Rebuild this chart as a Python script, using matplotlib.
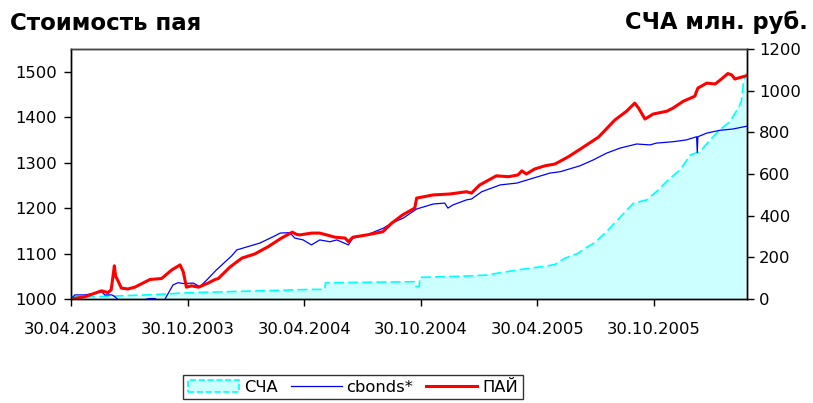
import pandas as pd
import matplotlib
matplotlib.use('Agg')
import matplotlib.pyplot as plt
import matplotlib.dates as mdates
from matplotlib.patches import Patch
from matplotlib.lines import Line2D

plt.rcParams['font.family'] = ['DejaVu Sans']

# ПАЙ - стоимость пая (левая ось)
pai_dates = [
    '2003-04-30', '2003-05-22', '2003-06-17', '2003-06-27', '2003-07-02', '2003-07-07',
    '2003-07-09', '2003-07-12', '2003-07-18', '2003-07-28', '2003-08-08', '2003-09-01',
    '2003-09-19', '2003-10-05', '2003-10-18', '2003-10-23', '2003-10-28', '2003-11-05',
    '2003-11-16', '2003-12-01', '2003-12-12', '2003-12-17', '2004-01-04', '2004-01-23',
    '2004-02-12', '2004-03-04', '2004-03-25', '2004-04-11', '2004-04-18', '2004-04-23',
    '2004-05-11', '2004-05-24', '2004-06-17', '2004-07-03', '2004-07-08', '2004-07-15',
    '2004-08-06', '2004-08-31', '2004-09-14', '2004-10-01', '2004-10-20', '2004-10-23',
    '2004-11-18', '2004-12-14', '2005-01-09', '2005-01-17', '2005-01-30', '2005-02-25',
    '2005-03-16', '2005-03-31', '2005-04-06', '2005-04-13', '2005-04-26', '2005-05-12',
    '2005-05-28', '2005-06-18', '2005-07-09', '2005-08-04', '2005-08-30', '2005-09-17',
    '2005-09-30', '2005-10-06', '2005-10-16', '2005-10-29', '2005-11-19', '2005-11-29',
    '2005-12-15', '2006-01-02', '2006-01-07', '2006-01-21', '2006-02-03', '2006-02-13',
    '2006-02-23', '2006-03-01', '2006-03-06', '2006-03-16', '2006-03-24',
]
pai = [
    1000, 1005, 1018, 1014, 1020, 1073,
    1050, 1042, 1024, 1022, 1026, 1043,
    1045, 1064, 1075, 1060, 1026, 1029,
    1026, 1035, 1043, 1045, 1070, 1090,
    1099, 1115, 1134, 1147, 1142, 1141,
    1145, 1145, 1136, 1134, 1126, 1136,
    1141, 1148, 1167, 1185, 1200, 1222,
    1229, 1231, 1236, 1233, 1251, 1271,
    1269, 1273, 1282, 1275, 1286, 1293,
    1297, 1313, 1332, 1356, 1394, 1413,
    1431, 1420, 1396, 1407, 1413, 1420,
    1435, 1446, 1464, 1475, 1473, 1484,
    1496, 1493, 1484, 1488, 1491,
]

# cbonds* (левая ось)
cb_dates = [
    '2003-04-30', '2003-05-06', '2003-05-22', '2003-06-07', '2003-06-17', '2003-06-22',
    '2003-07-03', '2003-07-08', '2003-07-13', '2003-07-24', '2003-08-16', '2003-08-27',
    '2003-09-01', '2003-09-09', '2003-09-13', '2003-09-24', '2003-10-07', '2003-10-15',
    '2003-10-23', '2003-11-08', '2003-11-18', '2003-11-29', '2003-12-14', '2004-01-07',
    '2004-01-15', '2004-02-20', '2004-03-12', '2004-03-23', '2004-04-07', '2004-04-15',
    '2004-04-28', '2004-05-11', '2004-05-24', '2004-06-09', '2004-06-20', '2004-07-08',
    '2004-07-15', '2004-08-06', '2004-09-01', '2004-09-14', '2004-10-02', '2004-10-23',
    '2004-11-18', '2004-12-06', '2004-12-11', '2004-12-19', '2005-01-09', '2005-01-17',
    '2005-02-02', '2005-03-03', '2005-03-29', '2005-04-24', '2005-05-20', '2005-06-05',
    '2005-07-06', '2005-07-27', '2005-08-17', '2005-09-07', '2005-10-03', '2005-10-24',
    '2005-11-03', '2005-11-29', '2005-12-20', '2006-01-05', '2006-01-06', '2006-01-07',
    '2006-01-21', '2006-02-10', '2006-03-03', '2006-03-24',
]
cbonds = [
    1000, 1009, 1009, 1013, 1016, 1009,
    1009, 1005, 998, 990, 990, 1000,
    1001, 1001, 995, 999, 1031, 1036,
    1034, 1035, 1027, 1042, 1064, 1095,
    1108, 1123, 1137, 1145, 1146, 1134,
    1130, 1119, 1130, 1126, 1130, 1119,
    1134, 1141, 1156, 1167, 1178, 1198,
    1209, 1211, 1200, 1207, 1218, 1220,
    1236, 1251, 1255, 1266, 1277, 1280,
    1293, 1306, 1321, 1332, 1341, 1339,
    1343, 1346, 1350, 1357, 1322, 1357,
    1365, 1371, 1374, 1380,
]

# СЧА, млн. руб. (правая ось)
scha_dates = [
    '2003-04-30', '2003-06-03', '2003-08-21', '2003-09-27', '2003-10-28', '2003-12-30',
    '2004-05-09', '2004-06-01', '2004-06-02', '2004-10-20', '2004-10-22', '2004-10-27',
    '2004-10-28', '2005-01-09', '2005-02-10', '2005-03-03', '2005-03-29', '2005-04-24',
    '2005-05-14', '2005-05-28', '2005-06-12', '2005-07-03', '2005-07-14', '2005-07-29',
    '2005-08-14', '2005-08-30', '2005-09-15', '2005-09-28', '2005-10-18', '2005-11-03',
    '2005-11-24', '2005-12-10', '2005-12-26', '2006-01-10', '2006-01-26', '2006-02-10',
    '2006-02-26', '2006-03-11', '2006-03-16', '2006-03-20', '2006-03-24',
]
scha = [
    11, 11, 19, 24, 30, 35,
    46, 46, 78, 83, 60, 60,
    104, 110, 115, 126, 139, 150,
    158, 166, 195, 219, 243, 270,
    315, 366, 419, 460, 475, 515,
    579, 619, 691, 707, 763, 811,
    851, 915, 947, 1051, 1083,
]

tick_dates = ['2003-04-30', '2003-10-30', '2004-04-30', '2004-10-30', '2005-04-30', '2005-10-30']

pai_dates = pd.to_datetime(pai_dates)
cb_dates = pd.to_datetime(cb_dates)
scha_dates = pd.to_datetime(scha_dates)
tick_dates = pd.to_datetime(tick_dates)

fig = plt.figure(figsize=(8.13, 4.03), dpi=100)
ax = fig.add_axes([71 / 813, 1 - 299 / 403, 676 / 813, 250 / 403])
ax2 = ax.twinx()

# площадь СЧА под линиями
ax2.fill_between(scha_dates, scha, 0, facecolor='#CCFFFF', edgecolor='none')
ax2.plot(scha_dates, scha, color='#00FFFF', lw=1.2, dashes=(6, 2.5))
ax2.set_ylim(0, 1200)
ax2.set_yticks(range(0, 1201, 200))

ax.set_zorder(ax2.get_zorder() + 1)
ax.patch.set_visible(False)

ax.plot(cb_dates, cbonds, color='#0000FF', lw=0.9)
ax.plot(pai_dates, pai, color='#FF0000', lw=2.2)

ax.set_ylim(1000, 1550)
ax.set_yticks(range(1000, 1501, 100))
ax.set_xlim(pd.Timestamp('2003-04-30'), pd.Timestamp('2006-03-25'))
ax.set_xticks(tick_dates)
ax.xaxis.set_major_formatter(mdates.DateFormatter('%d.%m.%Y'))

for a in (ax, ax2):
    a.tick_params(direction='out', length=5, width=1, labelsize=11.8, colors='black')
    for s in a.spines.values():
        s.set_color('black')
        s.set_linewidth(1)
ax.tick_params(axis='x', pad=11.5)
ax.tick_params(axis='y', pad=5)
ax.spines['top'].set_color('#444444')

fig.text(0.012, 1 - 29.5 / 403, 'Стоимость пая', fontsize=16.5, fontweight='bold', va='baseline')
fig.text(0.994, 1 - 29.5 / 403, 'СЧА млн. руб.', fontsize=16.3, fontweight='bold', va='baseline', ha='right')

handles = [
    Patch(facecolor='#CCFFFF', edgecolor='#00FFFF', linestyle='--', lw=1.2),
    Line2D([], [], color='#0000FF', lw=0.9),
    Line2D([], [], color='#FF0000', lw=2.2),
]
leg = fig.legend(handles, ['СЧА', 'cbonds*', 'ПАЙ'], loc='center', bbox_to_anchor=(353 / 813, 1 - 387 / 403),
                 ncol=3, fontsize=11.8, frameon=True, fancybox=False, edgecolor='black',
                 handlelength=3.1, handletextpad=0.3, columnspacing=0.8, borderpad=0.3,
                 borderaxespad=0)
leg.get_frame().set_linewidth(1)

fig.savefig('out.png', dpi=100)
